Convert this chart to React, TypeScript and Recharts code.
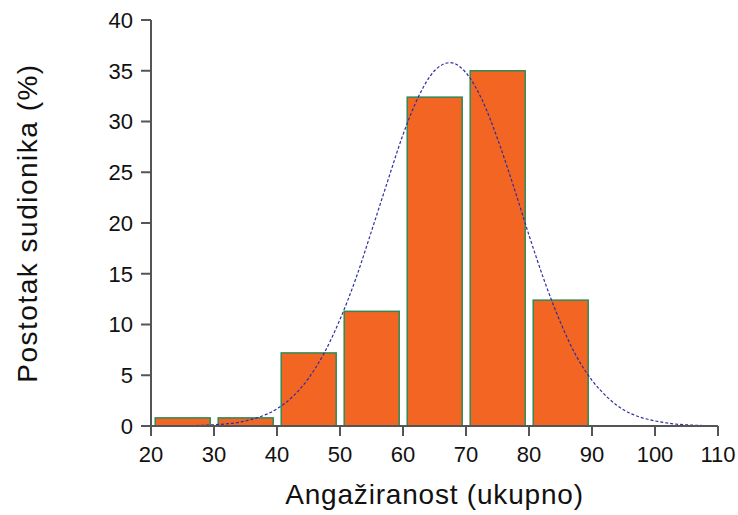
import {
  Bar, ComposedChart, Line, XAxis, YAxis,
} from "recharts";

// histogram bins (bin centre) and share of participants (%)
const binCentres = [25, 35, 45, 55, 65, 75, 85];
const binShares = [0.8, 0.8, 7.2, 11.3, 32.4, 35.0, 12.4];

// fitted normal curve
const curveX = [
  20, 25, 30, 35, 40, 42.5, 45, 47.5, 50, 52.5, 55, 57.5, 60, 62.5, 65, 67.5,
  70, 72.5, 75, 77.5, 80, 82.5, 85, 87.5, 90, 92.5, 95, 97.5, 100, 105, 110,
];
const curveY = [
  0.0, 0.02, 0.12, 0.5, 1.7, 2.9, 4.7, 7.2, 10.5, 14.5, 19.2, 24.0, 28.7, 32.5, 35.0, 35.8,
  34.8, 32.2, 28.3, 23.7, 18.8, 14.2, 10.2, 6.9, 4.5, 2.8, 1.6, 0.9, 0.5, 0.11, 0.02,
];

const xTicks = [20, 30, 40, 50, 60, 70, 80, 90, 100, 110];
const yTicks = [0, 5, 10, 15, 20, 25, 30, 35, 40];

const table = curveX.map((x, i) => {
  const b = binCentres.indexOf(x);
  return { x, curve: curveY[i], share: b >= 0 ? binShares[b] : undefined };
});

const AXIS = "#555555";
const FONT = "Arial, 'Liberation Sans', sans-serif";
const BAR_W = 55;

// band size is set by the curve points, so widen each bar around its centre
function BinRect(props: any) {
  const { x, y, width, height } = props;
  if (!height || height <= 0) return null;
  const cx = x + width / 2;
  return (
    <rect
      x={cx - BAR_W / 2}
      y={y}
      width={BAR_W}
      height={height}
      fill="#F26522"
      stroke="#2E8B57"
      strokeWidth={1.5}
    />
  );
}

export default function App() {
  return (
    <div style={{ position: "absolute", left: 0, top: 0, background: "#fff", fontFamily: FONT }}>
      <ComposedChart
        width={738}
        height={515}
        data={table}
        margin={{ top: 20, right: 20, bottom: 0, left: 0 }}
      >
        <XAxis
          dataKey="x"
          type="number"
          domain={[20, 110]}
          ticks={xTicks}
          interval={0}
          height={89}
          stroke={AXIS}
          strokeWidth={2}
          tickSize={10}
          tickMargin={10}
          tick={{ fill: "#111", fontSize: 22, fontFamily: FONT }}
          label={{
            value: "Angažiranost (ukupno)",
            position: "insideBottom",
            offset: 11,
            style: { fill: "#111", fontSize: 28, letterSpacing: 0.8, fontFamily: FONT },
          }}
        />
        <YAxis
          type="number"
          domain={[0, 40]}
          ticks={yTicks}
          interval={0}
          width={151}
          stroke={AXIS}
          strokeWidth={2}
          tickSize={10}
          tickMargin={8}
          tick={{ fill: "#111", fontSize: 22, fontFamily: FONT }}
          label={{
            value: "Postotak sudionika (%)",
            angle: -90,
            position: "insideLeft",
            offset: 27,
            style: { textAnchor: "middle", fill: "#111", fontSize: 28, letterSpacing: 1.5, fontFamily: FONT },
          }}
        />
        <Bar
          dataKey="share"
          shape={BinRect}
          isAnimationActive={false}
        />
        <Line
          dataKey="curve"
          type="monotone"
          stroke="#2E2EA0"
          strokeWidth={1.2}
          strokeDasharray="3 2"
          dot={false}
          activeDot={false}
          isAnimationActive={false}
        />
      </ComposedChart>
    </div>
  );
}
